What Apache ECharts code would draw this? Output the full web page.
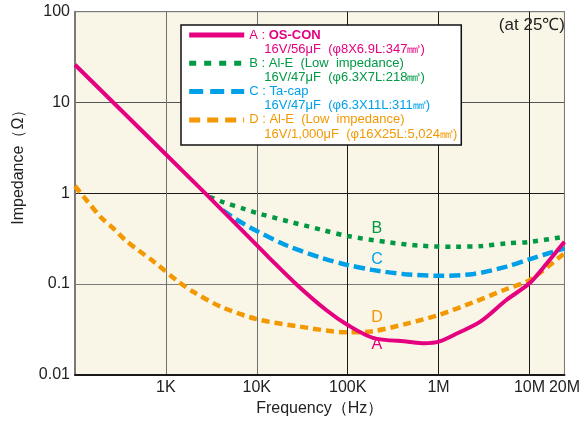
<!DOCTYPE html>
<html>
<head>
<meta charset="utf-8">
<script src="https://cdn.jsdelivr.net/npm/echarts@6.0.0/dist/echarts.min.js"></script>
<style>
html,body{margin:0;padding:0;background:#ffffff;}
#chart{width:583px;height:422px;}
</style>
</head>
<body>
<div id="chart"></div>
<script>
// ---------- data ----------
const seriesNames = ['A', 'B', 'C', 'D'];
const legendTitles = ['A : {bold|OS-CON}', 'B : Al-E  (Low  impedance)', 'C : Ta-cap', 'D : Al-E  (Low  impedance)'];
const legendSpecs = ['16V/56μF  (φ8X6.9L:347㎣)', '16V/47μF  (φ6.3X7L:218㎣)', '16V/47μF  (φ6.3X11L:311㎣)', '16V/1,000μF  (φ16X25L:5,024㎣)'];

const freqA = [100, 2700, 10000, 14000, 27000, 58000, 100000, 190000, 462000, 700000, 1000000, 1610000, 2880000, 5570000, 10000000, 13900000, 20000000];
const zA    = [26, 1.0, 0.268, 0.19, 0.10, 0.0516, 0.0353, 0.0255, 0.0231, 0.0222, 0.0231, 0.0286, 0.0384, 0.0665, 0.1016, 0.165, 0.292];

const freqB = [3030, 4200, 7500, 10000, 23000, 53000, 100000, 280000, 630000, 1500000, 3000000, 5600000, 10000000, 20000000];
const zB    = [0.915, 0.80, 0.665, 0.605, 0.485, 0.393, 0.337, 0.288, 0.264, 0.257, 0.262, 0.28, 0.29, 0.332];

const freqC = [4200, 6100, 10000, 22000, 53000, 100000, 186000, 427000, 1000000, 2430000, 5600000, 10000000, 20000000];
const zC    = [0.653, 0.507, 0.383, 0.262, 0.192, 0.162, 0.143, 0.128, 0.123, 0.129, 0.155, 0.187, 0.247];

const freqD = [100, 139, 194, 271, 363, 506, 736, 1370, 2000, 4050, 10000, 27000, 100000, 195000, 462000, 1000000, 2430000, 5600000, 10000000, 20000000];
const zD    = [1.2, 0.80, 0.54, 0.40, 0.30, 0.232, 0.176, 0.106, 0.082, 0.056, 0.041, 0.0344, 0.0293, 0.0303, 0.0368, 0.0455, 0.063, 0.088, 0.110, 0.218];

// curve letter labels (frequency, impedance)
const labelFreq = [210000, 210000, 210000, 210000];
const labelZ    = [0.0212, 0.404, 0.184, 0.0422];

// axis ticks
const xTickFreqs  = [1000, 10000, 100000, 1000000, 10000000, 20000000];
const xTickLabels = ['1K', '10K', '100K', '1M', '10M', '20M'];
const xMinFreq = 100;
const yMin = 0.01, yMax = 100;

// ---------- styling ----------
const colors = ['#e4007f', '#009944', '#00a0e9', '#f39800'];
const FONT = '"Liberation Sans", Arial, Helvetica, sans-serif';

// the last segment of the chart (10M..20M) is drawn stretched, as in the original
const EDGE = 0.385;
function axisPos(f) {
  return f <= 1e7 ? Math.log10(f) : 7 + Math.log10(f / 1e7) / Math.log10(2) * EDGE;
}
const xTickPos = xTickFreqs.map(axisPos);

function pairs(fs, zs) { return fs.map((f, i) => [axisPos(f), zs[i]]); }
const seriesData = [pairs(freqA, zA), pairs(freqB, zB), pairs(freqC, zC), pairs(freqD, zD)];
const lineStyles = [
  { width: 4, type: 'solid' },
  { width: 4.5, type: [5, 6] },
  { width: 4.5, type: [11, 5] },
  { width: 4.5, type: [8, 5] }
];
const legendLineStyles = [
  { width: 5, type: 'solid' },
  { width: 5, type: [7, 8] },
  { width: 5, type: [14, 7] },
  { width: 5, type: [11, 7] }
];

const series = seriesNames.map((name, i) => ({
  name: name,
  type: 'line',
  data: seriesData[i],
  showSymbol: false,
  symbol: 'none',
  smooth: 0.3,
  lineStyle: Object.assign({ color: colors[i] }, lineStyles[i]),
  itemStyle: { color: colors[i] },
  emphasis: { disabled: true },
  silent: true,
  z: i === 0 ? 6 : 5 - i,
  markPoint: {
    symbol: 'circle',
    symbolSize: 1,
    itemStyle: { color: 'rgba(0,0,0,0)' },
    label: { show: true, position: 'inside', formatter: name, color: colors[i], fontSize: 16, fontFamily: FONT },
    data: [{ coord: [axisPos(labelFreq[i]), labelZ[i]] }],
    silent: true
  }
}));

function labelFor(v) {
  for (let i = 0; i < xTickPos.length; i++) if (Math.abs(xTickPos[i] - v) < 1e-6) return xTickLabels[i];
  return '';
}

const chart = echarts.init(document.getElementById('chart'), null, { renderer: 'canvas' });
chart.setOption({
  animation: false,
  backgroundColor: '#ffffff',
  title: {
    text: '(at 25℃)',
    right: 13, top: 12, padding: 5,
    textStyle: { fontSize: 17, fontWeight: 'normal', color: '#222', fontFamily: FONT }
  },
  grid: {
    left: 75, right: 11.3, top: 11.7, bottom: 47.3,
    show: true, backgroundColor: '#faf6e7', borderColor: '#7a7a7a', borderWidth: 1
  },
  legend: [
    {
      z: 6,
      orient: 'vertical', left: 181, top: 25,
      padding: [3, 0, 0, 5.7],
      itemWidth: 55, itemHeight: 14, itemGap: 14.3,
      selectedMode: false,
      itemStyle: { opacity: 0, color: 'rgba(0,0,0,0)', borderWidth: 0 },
      data: seriesNames.map((n, i) => ({
        name: n,
        textStyle: { color: colors[i] },
        lineStyle: Object.assign({ color: colors[i] }, legendLineStyles[i])
      })),
      formatter: (name) => legendTitles[seriesNames.indexOf(name)],
      textStyle: {
        fontSize: 13, lineHeight: 14, fontFamily: FONT,
        rich: { bold: { fontWeight: 'bold', fontSize: 13, lineHeight: 14, fontFamily: FONT } }
      }
    },
    {
      z: 3,
      orient: 'vertical', left: 181, top: 25,
      padding: [17.3, 4, 3.8, 23.3],
      itemWidth: 55, itemHeight: 14, itemGap: 14.3,
      icon: 'none',
      selectedMode: false,
      backgroundColor: '#ffffff', borderColor: '#111', borderWidth: 1.5,
      data: seriesNames.map((n, i) => ({ name: n, textStyle: { color: colors[i] } })),
      formatter: (name) => legendSpecs[seriesNames.indexOf(name)],
      textStyle: { fontSize: 13, lineHeight: 14, fontFamily: FONT }
    }
  ],
  xAxis: {
    type: 'value',
    min: axisPos(xMinFreq), max: axisPos(20000000),
    name: 'Frequency（Hz）', nameLocation: 'middle', nameGap: 25,
    nameTextStyle: { fontSize: 16, color: '#222', fontFamily: FONT },
    axisLine: { show: true, lineStyle: { color: '#1a1a1a', width: 2 } },
    axisTick: { show: false, customValues: xTickPos },
    axisLabel: { customValues: xTickPos, formatter: labelFor, fontSize: 16, color: '#222', margin: 5, fontFamily: FONT },
    splitLine: { show: true, lineStyle: { color: ['#707070', '#707070', '#1a1a1a', '#1a1a1a', '#1a1a1a', '#7a7a7a'], width: 1 } }
  },
  yAxis: {
    type: 'log', logBase: 10, min: yMin, max: yMax,
    name: 'Impedance（Ω）', nameLocation: 'middle', nameGap: 48, nameRotate: 90,
    nameTextStyle: { fontSize: 16, color: '#222', fontFamily: FONT, padding: [0, 0, 0, 60] },
    axisLine: { show: true, lineStyle: { color: '#7a7a7a', width: 2 } },
    axisTick: { show: false },
    axisLabel: {
      fontSize: 16, color: '#222', margin: 5, fontFamily: FONT,
      formatter: (v) => v >= 1 ? String(Math.round(v)) : String(parseFloat(Number(v).toPrecision(1)))
    },
    splitLine: { show: true, lineStyle: { color: ['#8a8a8a', '#7a7a7a', '#1a1a1a', '#555555', '#7a7a7a'], width: 1 } }
  },
  series: series
});
</script>
</body>
</html>
